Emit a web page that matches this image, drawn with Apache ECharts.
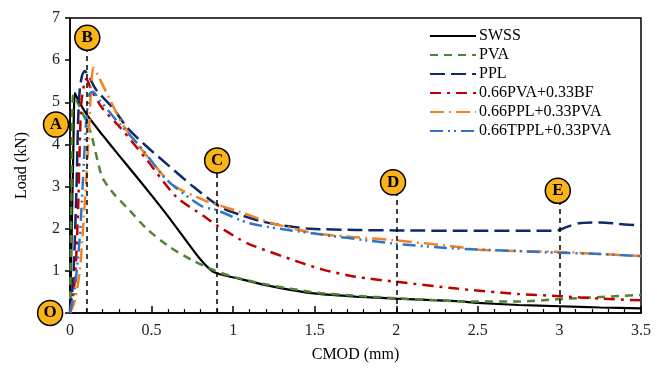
<!DOCTYPE html>
<html>
<head>
<meta charset="utf-8">
<script src="https://cdn.jsdelivr.net/npm/echarts@6/dist/echarts.min.js"></script>
<style>
  html, body { margin: 0; padding: 0; background: #fff; }
  #chart { width: 662px; height: 369px; }
</style>
</head>
<body>
<div id="chart"></div>
<script>
// CMOD (mm) / Load (kN) pairs
const swss = [[0,0],[0.01,1.8],[0.02,3.8],[0.03,5.22],[0.05,5.05],[0.11,4.67],[0.2,4.22],[0.3,3.74],[0.4,3.27],[0.5,2.79],[0.6,2.3],[0.7,1.78],[0.8,1.27],[0.87,1.0],[0.92,0.92],[1.04,0.81],[1.2,0.66],[1.35,0.55],[1.51,0.46],[1.75,0.39],[2.0,0.34],[2.37,0.28],[2.5,0.24],[2.75,0.19],[3.0,0.16],[3.25,0.13],[3.5,0.11]];
const pva = [[0,0],[0.005,1.5],[0.01,3.2],[0.02,5.18],[0.04,5.05],[0.07,4.8],[0.1,4.55],[0.13,4.25],[0.17,3.6],[0.2,3.2],[0.27,2.82],[0.35,2.5],[0.47,2.0],[0.61,1.57],[0.75,1.25],[0.88,1.02],[1.0,0.86],[1.2,0.68],[1.5,0.49],[1.75,0.41],[2.0,0.35],[2.25,0.3],[2.5,0.27],[2.75,0.27],[3.0,0.33],[3.25,0.38],[3.5,0.43]];
const ppl = [[0,0],[0.02,0.8],[0.04,3.0],[0.05,4.6],[0.06,5.3],[0.075,5.65],[0.09,5.74],[0.12,5.58],[0.16,5.3],[0.27,4.83],[0.35,4.4],[0.47,3.95],[0.61,3.48],[0.755,3.0],[0.92,2.52],[1.05,2.32],[1.18,2.17],[1.3,2.08],[1.47,2.0],[1.75,1.97],[2.0,1.96],[2.5,1.95],[2.9,1.95],[3.0,1.97],[3.05,2.05],[3.12,2.13],[3.25,2.15],[3.4,2.1],[3.5,2.08]];
const pvaBf = [[0,0],[0.03,0.8],[0.05,2.5],[0.06,4.0],[0.07,5.0],[0.09,5.5],[0.1,5.55],[0.13,5.3],[0.2,4.85],[0.31,4.39],[0.47,3.64],[0.65,2.76],[0.82,2.3],[0.9,2.08],[1.04,1.75],[1.1,1.63],[1.41,1.2],[1.55,1.03],[1.75,0.86],[2.0,0.74],[2.37,0.58],[2.75,0.45],[3.0,0.4],[3.25,0.34],[3.5,0.3]];
const pplPva = [[0,0],[0.03,0.3],[0.06,1.0],[0.08,2.0],[0.1,3.2],[0.12,4.6],[0.13,5.4],[0.143,5.82],[0.17,5.65],[0.235,5.14],[0.33,4.43],[0.49,3.64],[0.63,3.04],[0.82,2.68],[1.04,2.4],[1.25,2.12],[1.51,1.89],[1.75,1.8],[1.98,1.73],[2.37,1.57],[2.5,1.5],[2.75,1.47],[3.0,1.45],[3.25,1.4],[3.5,1.35]];
const tpplPva = [[0,0],[0.03,0.6],[0.06,1.8],[0.08,3.2],[0.1,4.6],[0.12,5.2],[0.14,5.25],[0.18,5.06],[0.3,4.5],[0.43,3.95],[0.53,3.45],[0.59,3.16],[0.8,2.55],[0.9,2.44],[1.1,2.13],[1.41,1.93],[1.98,1.65],[2.37,1.53],[2.75,1.47],[3.0,1.43],[3.25,1.4],[3.5,1.35]];

// stage markers (O..E) and their dashed guide lines
const markerNames = ["O", "A", "B", "C", "D", "E"];
const markerX = [-0.122, -0.086, 0.106, 0.902, 1.98, 2.99];
const markerY = [0, 4.47, 6.53, 3.62, 3.1, 2.9];
const guideX = [0.1, 0.9, 2, 3];
const guideTop = [6.4, 3.5, 3.0, 2.8];

const FONT = "Liberation Serif";

const seriesDefs = [
  { name: "SWSS", data: swss, color: "#000000", type: "solid", width: 2.2 },
  { name: "PVA", data: pva, color: "#548235", type: [8, 6], width: 2.5 },
  { name: "PPL", data: ppl, color: "#0f2a6b", type: [15, 6], width: 2.5 },
  { name: "0.66PVA+0.33BF", data: pvaBf, color: "#c00000", type: [11, 6, 3, 6], width: 2.5 },
  { name: "0.66PPL+0.33PVA", data: pplPva, color: "#f58220", type: [14, 5, 2, 5], width: 2.5 },
  { name: "0.66TPPL+0.33PVA", data: tpplPva, color: "#2e75c8", type: [13, 5, 2, 4, 2, 5], width: 2.5 },
];

const chart = echarts.init(document.getElementById("chart"), null, { renderer: "canvas" });

const series = seriesDefs.map((s) => ({
  name: s.name,
  type: "line",
  data: s.data,
  symbol: "none",
  smooth: 0.25,
  lineStyle: { color: s.color, width: s.width, type: s.type },
  itemStyle: { color: s.color },
  z: 3,
}));

series.push({
  name: "guides",
  type: "line",
  data: [],
  markLine: {
    silent: true,
    symbol: "none",
    label: { show: false },
    lineStyle: { color: "#000", width: 1.5, type: [5, 4] },
    data: guideX.map((x, i) => [{ coord: [x, 0] }, { coord: [x, guideTop[i]] }]),
  },
  z: 2,
});

series.push({
  name: "markers",
  type: "scatter",
  clip: false,
  symbol: "circle",
  symbolSize: 25,
  data: markerNames.map((n, i) => ({ value: [markerX[i], markerY[i]], name: n })),
  itemStyle: { color: "#fbb31a", borderColor: "#000", borderWidth: 1.5, opacity: 1 },
  label: {
    show: true,
    position: "inside",
    formatter: (p) => p.name,
    color: "#000",
    fontFamily: FONT,
    fontWeight: "bold",
    fontSize: 17,
  },
  z: 10,
});

chart.setOption({
  animation: false,
  grid: {
    left: 70, right: 21, top: 18, bottom: 56,
    show: true, borderColor: "#000", borderWidth: 1.5,
  },
  legend: {
    data: seriesDefs.map((s) => s.name),
    orient: "vertical",
    left: 424,
    top: 23,
    itemWidth: 46,
    itemHeight: 10,
    itemGap: 3,
    itemStyle: { opacity: 0, borderWidth: 0 },
    textStyle: { fontFamily: FONT, fontSize: 16, color: "#000", padding: [0, 0, 0, -2] },
  },
  xAxis: {
    type: "value",
    min: 0, max: 3.5, interval: 0.5,
    name: "CMOD (mm)",
    nameLocation: "middle",
    nameGap: 34,
    nameTextStyle: { fontFamily: FONT, fontSize: 16, color: "#000" },
    axisLine: { lineStyle: { color: "#000", width: 1.5 } },
    axisTick: { inside: true, length: 7, lineStyle: { color: "#000", width: 1.5 } },
    minorTick: { show: true, splitNumber: 5, length: 4, lineStyle: { color: "#000", width: 1.2 } },
    axisLabel: { fontFamily: FONT, fontSize: 16, color: "#222", margin: 10 },
    splitLine: { show: false },
  },
  yAxis: {
    type: "value",
    min: 0, max: 7, interval: 1,
    name: "Load (kN)",
    nameLocation: "middle",
    nameGap: 40,
    nameTextStyle: { fontFamily: FONT, fontSize: 16, color: "#000" },
    axisLine: { lineStyle: { color: "#000", width: 1.5 } },
    axisTick: { inside: false, length: 5, lineStyle: { color: "#000", width: 1.5 } },
    axisLabel: { fontFamily: FONT, fontSize: 16, color: "#222", margin: 10 },
    splitLine: { show: false },
  },
  series: series,
});
</script>
</body>
</html>
